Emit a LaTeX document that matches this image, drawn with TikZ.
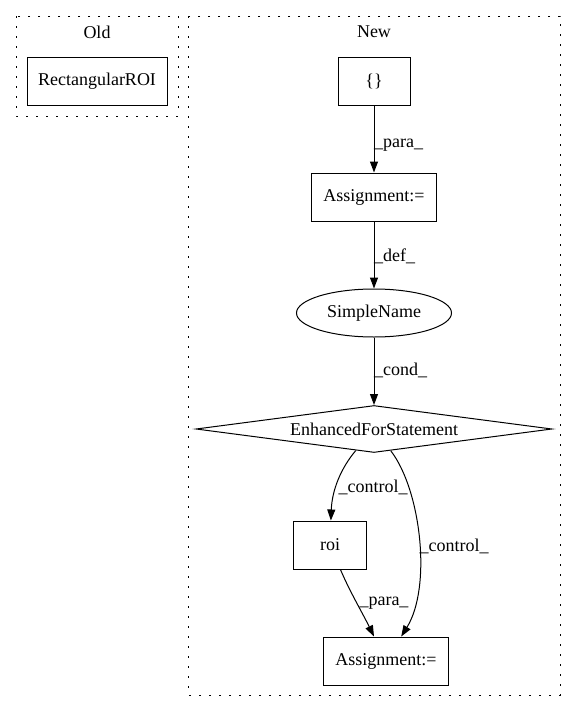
\documentclass[tikz,border=0pt]{standalone}
\usepackage{fontspec}
\setmainfont{Liberation Serif}
\usetikzlibrary{shapes.geometric,arrows.meta}
\begin{document}
\begin{tikzpicture}[x=1pt,y=-1pt,
  font=\fontsize{18pt}{21pt}\selectfont,
  cluster/.style={draw, line width=1pt, dash pattern=on 2pt off 8pt},
  box/.style={draw, line width=1pt, rectangle, inner sep=0pt, minimum height=48pt},
  ell/.style={draw, line width=1pt, ellipse, inner sep=0pt, minimum width=155pt, minimum height=48pt},
  dia/.style={draw, line width=1pt, diamond, aspect=7.57, inner sep=0pt, minimum width=356pt, minimum height=47pt},
  edge/.style={draw, line width=1pt, -{Triangle[length=11pt,width=8pt]}},
  lbl/.style={inner sep=0pt}
]
\useasboundingbox (0,0) rectangle (576,712);
% clusters
\draw[cluster] (16,16) rectangle (178,116);
\node[lbl] (oldlbl) at (97,32) {Old};
\draw[cluster] (188,16) rectangle (560,695);
\node[lbl] (newlbl) at (374,32) {New};
% nodes
\node[box, minimum width=140pt] (rroi) at (97,81) {RectangularROI};
\node[box, minimum width=72pt] (br) at (374,81) {\{\}};
\node[box, minimum width=125pt] (asg1) at (374,197) {Assignment:=};
\node[ell] (sn) at (374,313) {SimpleName};
\node[dia] (efs) at (374,429) {EnhancedForStatement};
\node[box, minimum width=73pt] (roi) at (330,545) {roi};
\node[box, minimum width=125pt] (asg2) at (386,661) {Assignment:=};
% edges
\draw[edge] (br) -- (asg1);
\node[lbl, anchor=west] (l1) at (374,145) {\_para\_};
\draw[edge] (asg1) -- (sn);
\node[lbl, anchor=west] (l2) at (374,256) {\_def\_};
\draw[edge] (sn) -- (efs);
\node[lbl, anchor=west] (l3) at (374,370) {\_cond\_};
\draw[edge] (efs) .. controls (341,468) and (332,490) .. (roi);
\node[lbl] (l4) at (373,487) {\_control\_};
\draw[edge] (efs) .. controls (421,490) and (432,587) .. (asg2);
\node[lbl] (l5) at (454,546) {\_control\_};
\draw[edge] (roi) .. controls (350,592) and (362,612) .. (asg2);
\node[lbl] (l6) at (384,603) {\_para\_};
\end{tikzpicture}
\end{document}
